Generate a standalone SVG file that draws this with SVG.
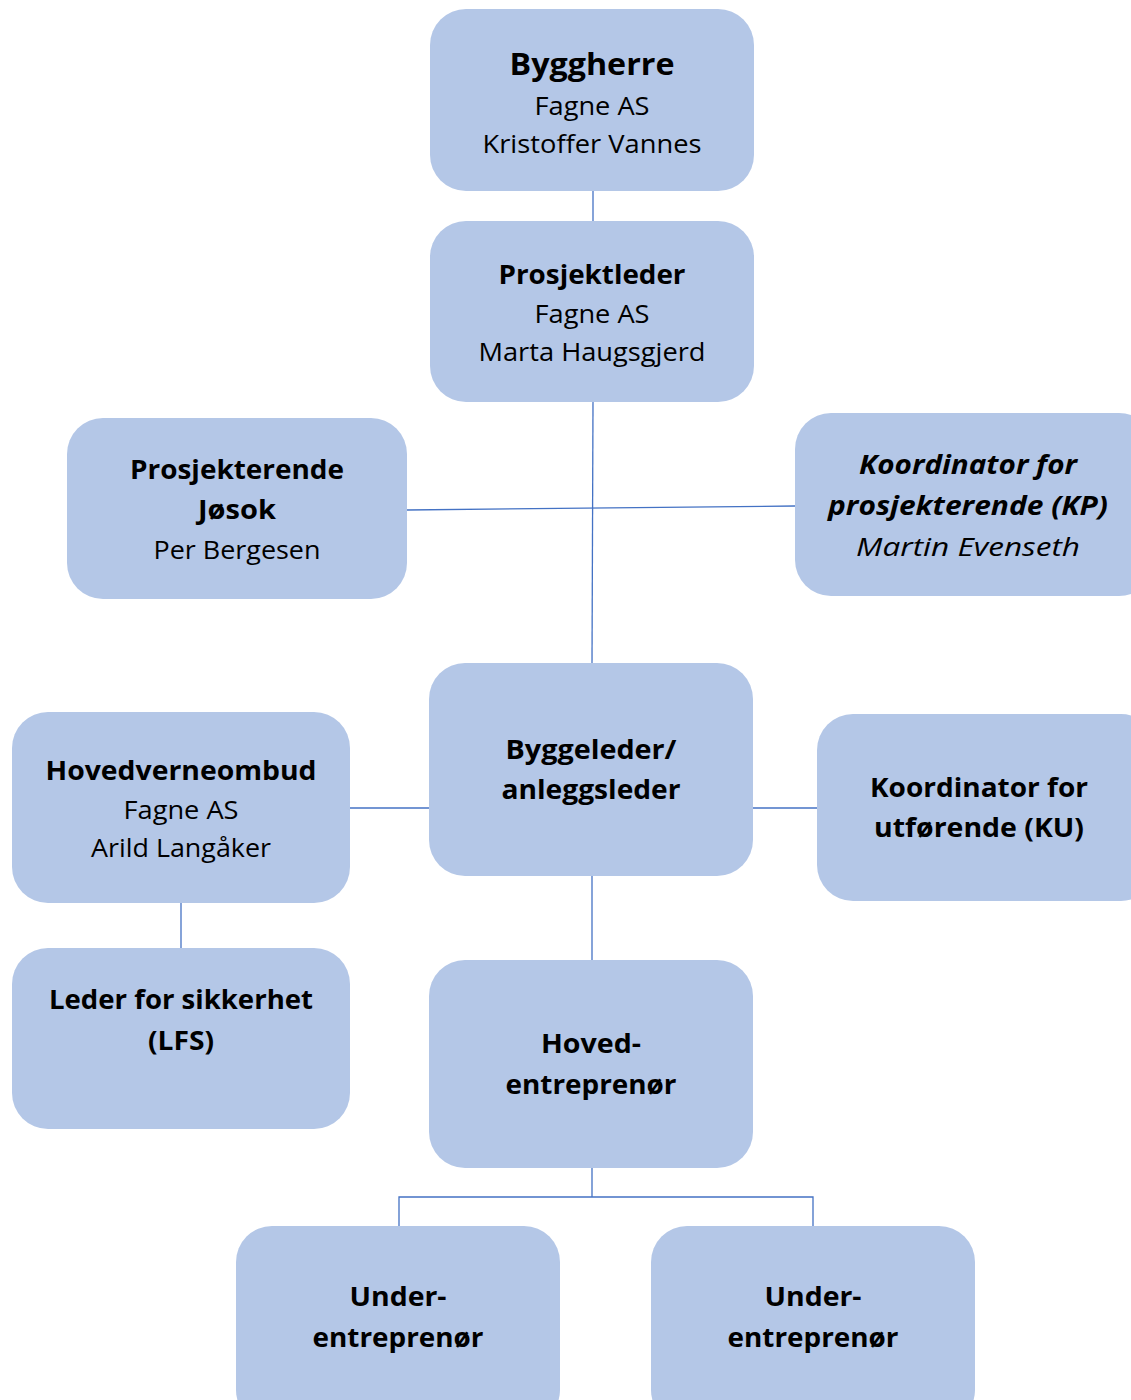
<svg xmlns="http://www.w3.org/2000/svg" width="1131" height="1400" viewBox="0 0 1131 1400">
<style>
.box{fill:#B4C7E7;}
.t{font-family:"Open Sans","Liberation Sans",sans-serif;fill:#000;text-anchor:middle;}
.b{font-weight:bold;font-size:27px;}
.r{font-size:25px;}
.big{font-weight:bold;font-size:31px;}
.i{font-style:italic;}
.c{stroke:#4472C4;stroke-width:1.3;fill:none;}
</style>
<rect width="1131" height="1400" fill="#fff"/>
<g id="connectors">
<path class="c" d="M593 191V221"/>
<path class="c" d="M593 402L592 663"/>
<path class="c" d="M407 510L795 506"/>
<path class="c" d="M350 808H429"/>
<path class="c" d="M753 808H817"/>
<path class="c" d="M181 903V948"/>
<path class="c" d="M592 876V960"/>
<path class="c" d="M592 1168V1197M399 1226V1197H813V1226"/>
</g>
<g id="byggherre">
<rect class="box" x="430" y="9" width="324" height="182" rx="36"/>
<text class="t big" x="592" y="75" textLength="165" lengthAdjust="spacingAndGlyphs">Byggherre</text>
<text class="t r" x="592" y="115" textLength="115" lengthAdjust="spacingAndGlyphs">Fagne AS</text>
<text class="t r" x="592" y="153" textLength="219" lengthAdjust="spacingAndGlyphs">Kristoffer Vannes</text>
</g>
<g id="prosjektleder">
<rect class="box" x="430" y="221" width="324" height="181" rx="36"/>
<text class="t b" x="592" y="284" textLength="187" lengthAdjust="spacingAndGlyphs">Prosjektleder</text>
<text class="t r" x="592" y="323" textLength="115" lengthAdjust="spacingAndGlyphs">Fagne AS</text>
<text class="t r" x="592" y="361" textLength="227" lengthAdjust="spacingAndGlyphs">Marta Haugsgjerd</text>
</g>
<g id="prosjekterende">
<rect class="box" x="67" y="418" width="340" height="181" rx="36"/>
<text class="t b" x="237" y="479" textLength="214" lengthAdjust="spacingAndGlyphs">Prosjekterende</text>
<text class="t b" x="237" y="519" textLength="78" lengthAdjust="spacingAndGlyphs">Jøsok</text>
<text class="t r" x="237" y="559" textLength="167" lengthAdjust="spacingAndGlyphs">Per Bergesen</text>
</g>
<g id="kp">
<rect class="box" x="795" y="413" width="360" height="183" rx="36"/>
<text class="t b i" x="968" y="474" textLength="218" lengthAdjust="spacingAndGlyphs">Koordinator for</text>
<text class="t b i" x="968" y="515" textLength="280" lengthAdjust="spacingAndGlyphs">prosjekterende (KP)</text>
<text class="t r i" x="968" y="556" textLength="224" lengthAdjust="spacingAndGlyphs">Martin Evenseth</text>
</g>
<g id="byggeleder">
<rect class="box" x="429" y="663" width="324" height="213" rx="36"/>
<text class="t b" x="591" y="759" textLength="171" lengthAdjust="spacingAndGlyphs">Byggeleder/</text>
<text class="t b" x="591" y="799" textLength="179" lengthAdjust="spacingAndGlyphs">anleggsleder</text>
</g>
<g id="hovedverneombud">
<rect class="box" x="12" y="712" width="338" height="191" rx="36"/>
<text class="t b" x="181" y="780" textLength="271" lengthAdjust="spacingAndGlyphs">Hovedverneombud</text>
<text class="t r" x="181" y="819" textLength="115" lengthAdjust="spacingAndGlyphs">Fagne AS</text>
<text class="t r" x="181" y="857" textLength="180" lengthAdjust="spacingAndGlyphs">Arild Langåker</text>
</g>
<g id="ku">
<rect class="box" x="817" y="714" width="340" height="187" rx="36"/>
<text class="t b" x="979" y="797" textLength="218" lengthAdjust="spacingAndGlyphs">Koordinator for</text>
<text class="t b" x="979" y="837" textLength="210" lengthAdjust="spacingAndGlyphs">utførende (KU)</text>
</g>
<g id="lfs">
<rect class="box" x="12" y="948" width="338" height="181" rx="36"/>
<text class="t b" x="181" y="1009" textLength="264" lengthAdjust="spacingAndGlyphs">Leder for sikkerhet</text>
<text class="t b" x="181" y="1050" textLength="66" lengthAdjust="spacingAndGlyphs">(LFS)</text>
</g>
<g id="hovedentreprenor">
<rect class="box" x="429" y="960" width="324" height="208" rx="36"/>
<text class="t b" x="591" y="1053" textLength="100" lengthAdjust="spacingAndGlyphs">Hoved-</text>
<text class="t b" x="591" y="1094" textLength="171" lengthAdjust="spacingAndGlyphs">entreprenør</text>
</g>
<g id="under1">
<rect class="box" x="236" y="1226" width="324" height="200" rx="36"/>
<text class="t b" x="398" y="1306" textLength="97" lengthAdjust="spacingAndGlyphs">Under-</text>
<text class="t b" x="398" y="1347" textLength="171" lengthAdjust="spacingAndGlyphs">entreprenør</text>
</g>
<g id="under2">
<rect class="box" x="651" y="1226" width="324" height="200" rx="36"/>
<text class="t b" x="813" y="1306" textLength="97" lengthAdjust="spacingAndGlyphs">Under-</text>
<text class="t b" x="813" y="1347" textLength="171" lengthAdjust="spacingAndGlyphs">entreprenør</text>
</g>
</svg>
